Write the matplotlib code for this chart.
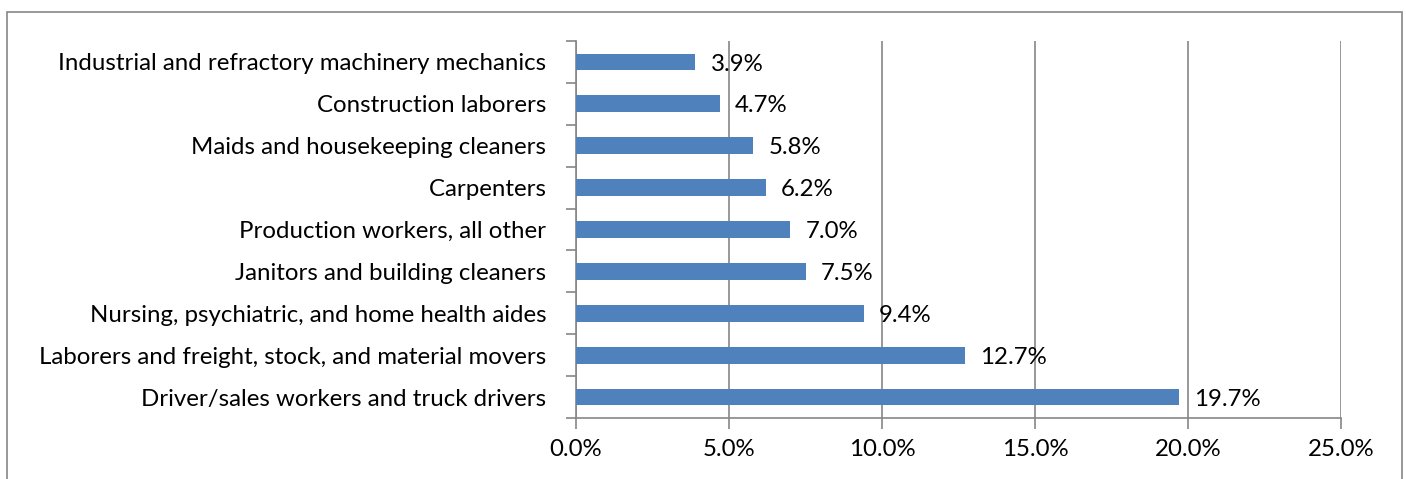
import matplotlib.pyplot as plt
from matplotlib.patches import Rectangle
from matplotlib.ticker import FuncFormatter, MultipleLocator

# occupations, bottom to top as drawn
occupations = [
    "Driver/sales workers and truck drivers",
    "Laborers and freight, stock, and material movers",
    "Nursing, psychiatric, and home health aides",
    "Janitors and building cleaners",
    "Production workers, all other",
    "Carpenters",
    "Maids and housekeeping cleaners",
    "Construction laborers",
    "Industrial and refractory machinery mechanics",
]
shares = [19.7, 12.7, 9.4, 7.5, 7.0, 6.2, 5.8, 4.7, 3.9]

BAR_COLOR = "#4F81BD"
GRID_COLOR = "#868686"
FS = 17.3

plt.rcParams['font.family'] = ['Lato', 'DejaVu Sans']

W, H = 1406, 479
fig = plt.figure(figsize=(W / 100, H / 100), dpi=100)

# chart area border (bottom edge lies outside the picture)
fig.patches.append(Rectangle((7 / W, -0.1), (1402 - 7) / W, 1.1 - 12 / H,
                             transform=fig.transFigure, fill=False,
                             edgecolor=GRID_COLOR, linewidth=1.2))

ax = fig.add_axes([576 / W, 1 - 418 / H, (1341 - 576) / W, (418 - 41) / H])

y = range(len(occupations))
ax.barh(y, shares, height=0.4, color=BAR_COLOR, zorder=3)

for yi, v in zip(y, shares):
    ax.text(v + 0.5, yi - 0.05, f"{v:.1f}%", va="center", ha="left",
            fontsize=FS, color="#000000", zorder=4)

ax.set_xlim(0, 25)
ax.set_ylim(-0.5, len(occupations) - 0.5)
ax.xaxis.set_major_locator(MultipleLocator(5))
ax.xaxis.set_major_formatter(FuncFormatter(lambda v, p: f"{v:.1f}%"))
ax.grid(axis="x", color=GRID_COLOR, linewidth=1.2, zorder=0)

ax.set_yticks([i for i in y])
ax.set_yticklabels([o + " " for o in occupations])
ax.set_yticks([i - 0.5 for i in range(len(occupations) + 1)], minor=True)
ax.tick_params(axis="y", which="major", length=0, pad=17, labelsize=FS)
ax.tick_params(axis="y", which="minor", length=7, width=1.2, color=GRID_COLOR)
ax.tick_params(axis="x", length=8, width=1.2, color=GRID_COLOR, pad=7,
               labelsize=FS)

for side in ["top", "right"]:
    ax.spines[side].set_visible(False)
for side in ["left", "bottom"]:
    ax.spines[side].set_color(GRID_COLOR)
    ax.spines[side].set_linewidth(1.2)

fig.savefig("out.png", dpi=100)
